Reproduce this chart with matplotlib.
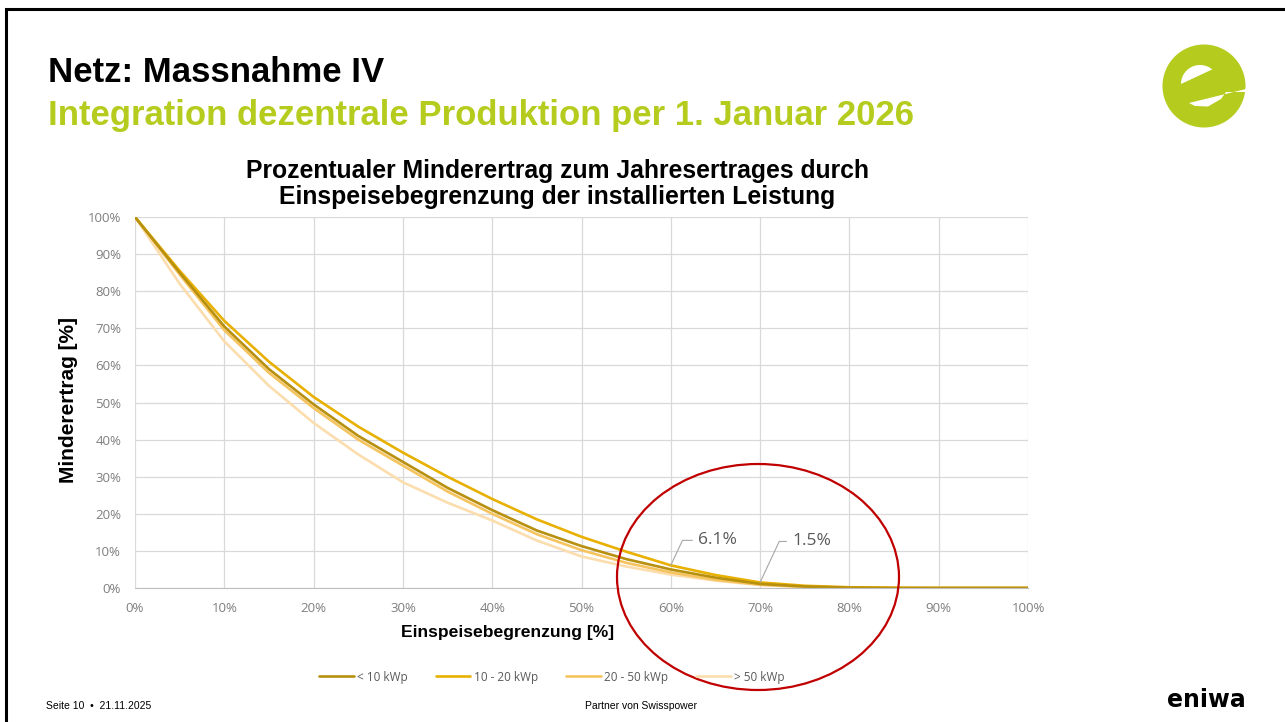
import numpy as np
import matplotlib
matplotlib.use("Agg")
import matplotlib.pyplot as plt
from matplotlib.patches import Ellipse, Circle, Polygon

# Einspeisebegrenzung [%] und Minderertrag [%] je Anlagengroesse
begrenzung = [0, 5, 10, 15, 20, 25, 30, 35, 40, 45, 50,
              55, 60, 65, 70, 75, 80, 85, 90, 95, 100]
lt_10 = [100, 85, 70.5, 59, 49.5, 41, 34, 27, 21, 15.5, 11.3,
         7.8, 5, 2.8, 1.1, 0.4, 0.1, 0, 0, 0, 0]
k10_20 = [100, 85.5, 72, 61, 51.5, 43.5, 36.5, 30, 24, 18.5, 13.8,
          9.8, 6.1, 3.5, 1.5, 0.6, 0.2, 0.05, 0, 0, 0]
k20_50 = [100, 84.5, 69.5, 58, 48.5, 40, 33, 26, 20, 14.5, 10.2,
          6.8, 4.2, 2.2, 0.9, 0.3, 0.1, 0, 0, 0, 0]
gt_50 = [100, 82, 66.5, 54.5, 44.5, 36, 28.5, 23, 18.2, 12.8, 8.5,
         5.8, 3.6, 2, 0.8, 0.3, 0.1, 0, 0, 0, 0]

serien = [("> 50 kWp", gt_50, "#FBDDAE"),
          ("20 - 50 kWp", k20_50, "#F6C45E"),
          ("10 - 20 kWp", k10_20, "#E8B000"),
          ("< 10 kWp", lt_10, "#B8900F")]
legend_order = ["< 10 kWp", "10 - 20 kWp", "20 - 50 kWp", "> 50 kWp"]

W, H = 1285, 722
fig = plt.figure(figsize=(W / 100, H / 100), dpi=100)
fig.patch.set_facecolor("white")

green = "#B5CC1E"
tick_font = "Open Sans"

# Folientitel
fig.text(48 / W, 1 - 73 / H, "Netz: Massnahme IV", fontsize=25, fontweight="bold",
         family="Liberation Sans", va="center", ha="left")
fig.text(48 / W, 1 - 116 / H, "Integration dezentrale Produktion per 1. Januar 2026",
         fontsize=25, fontweight="bold", family="Liberation Sans", color=green,
         va="center", ha="left")

ax = fig.add_axes([135 / W, 1 - 588 / H, (1028 - 135) / W, (588 - 217) / H])

handles = {}
for name, vals, col in serien:
    ln, = ax.plot(begrenzung, vals, color=col, lw=1.9, solid_capstyle="round")
    handles[name] = ln

ax.set_xlim(0, 100)
ax.set_ylim(0, 100)
ax.set_xticks(np.arange(0, 101, 10))
ax.set_yticks(np.arange(0, 101, 10))
ax.set_xticklabels([f"{v}%" for v in range(0, 101, 10)])
ax.set_yticklabels([f"{v}%" for v in range(0, 101, 10)])
ax.grid(True, color="#D9D9D9", lw=0.9)
ax.set_axisbelow(True)
for s in ["top", "right", "left"]:
    ax.spines[s].set_visible(False)
ax.spines["bottom"].set_color("#BFBFBF")
ax.tick_params(length=0, labelsize=9.5, labelcolor="#7F7F7F", pad=10)
for lab in ax.get_xticklabels() + ax.get_yticklabels():
    lab.set_family(tick_font)

# Diagrammtitel und Achsentitel
fig.text(557 / W, 1 - 184 / H,
         "Prozentualer Minderertrag zum Jahresertrages durch\n"
         "Einspeisebegrenzung der installierten Leistung",
         fontsize=17.8, fontweight="bold", family="Liberation Sans",
         ha="center", va="center", linespacing=1.1)
fig.text(68 / W, 1 - 400 / H, "Minderertrag [%]", fontsize=15, fontweight="bold",
         family="Liberation Sans", rotation=90, ha="center", va="center")
fig.text(508 / W, 1 - 633 / H, "Einspeisebegrenzung [%]", fontsize=12.6,
         fontweight="bold", family="Liberation Sans", ha="center", va="center")

# Datenbeschriftungen
for xv, vals, dx, dy in [(60, k10_20, 19.5, 18), (70, k10_20, 23, 29.5)]:
    yv = vals[begrenzung.index(xv)]
    ax.annotate(f"{yv:.1f}%", xy=(xv, yv), xytext=(dx, dy), textcoords="offset points",
                fontsize=12.5, color="#595959", family=tick_font, va="center", ha="left",
                arrowprops=dict(arrowstyle="-", color="#A6A6A6", lw=0.8,
                                shrinkA=2, shrinkB=0,
                                connectionstyle="angle,angleA=0,angleB=65,rad=0"))

# Legende
fig.legend([handles[n] for n in legend_order], legend_order, loc="center",
           bbox_to_anchor=(552 / W, 1 - 677 / H), ncol=4, frameon=False,
           handlelength=2.9, handletextpad=0.3, columnspacing=2.4,
           prop={"family": tick_font, "size": 8.5}, labelcolor="#595959")

# Dekoration in Pixelkoordinaten (Rahmen, Logo, Markierung)
deco = fig.add_axes([0, 0, 1, 1], zorder=5)
deco.set_xlim(0, W)
deco.set_ylim(H, 0)
deco.axis("off")
deco.patch.set_alpha(0)

deco.plot([6, 6, W], [H, 9, 9], color="black", lw=2.2, solid_joinstyle="miter")

# Logo "e"
deco.add_patch(Circle((1204, 86), 41.5, color=green, lw=0))
t = np.linspace(np.pi, np.radians(50), 40)
counter = list(zip(1200 + 19 * np.cos(t), 84 - 19 * np.sin(t)))
deco.add_patch(Polygon(counter, closed=True, color="white", lw=0))
wedge = [(1189, 103), (1250, 88), (1250, 92), (1226, 92), (1221, 99),
         (1208, 106.5), (1195, 106)]
deco.add_patch(Polygon(wedge, closed=True, color="white", lw=0))

deco.add_patch(Ellipse((758, 577), 282, 226, fill=False, edgecolor="#C00000", lw=1.6))

# Fusszeile
fig.text(46 / W, 1 - 706 / H, "Seite 10  \u2022  21.11.2025", fontsize=7.5,
         family="Liberation Sans", va="center", ha="left")
fig.text(641 / W, 1 - 706 / H, "Partner von Swisspower", fontsize=7.5,
         family="Liberation Sans", va="center", ha="center")
fig.text(1246 / W, 1 - 700 / H, "eniwa", fontsize=17, fontweight="bold",
         family="DejaVu Sans", va="center", ha="right")

fig.savefig("out.png", dpi=100)
